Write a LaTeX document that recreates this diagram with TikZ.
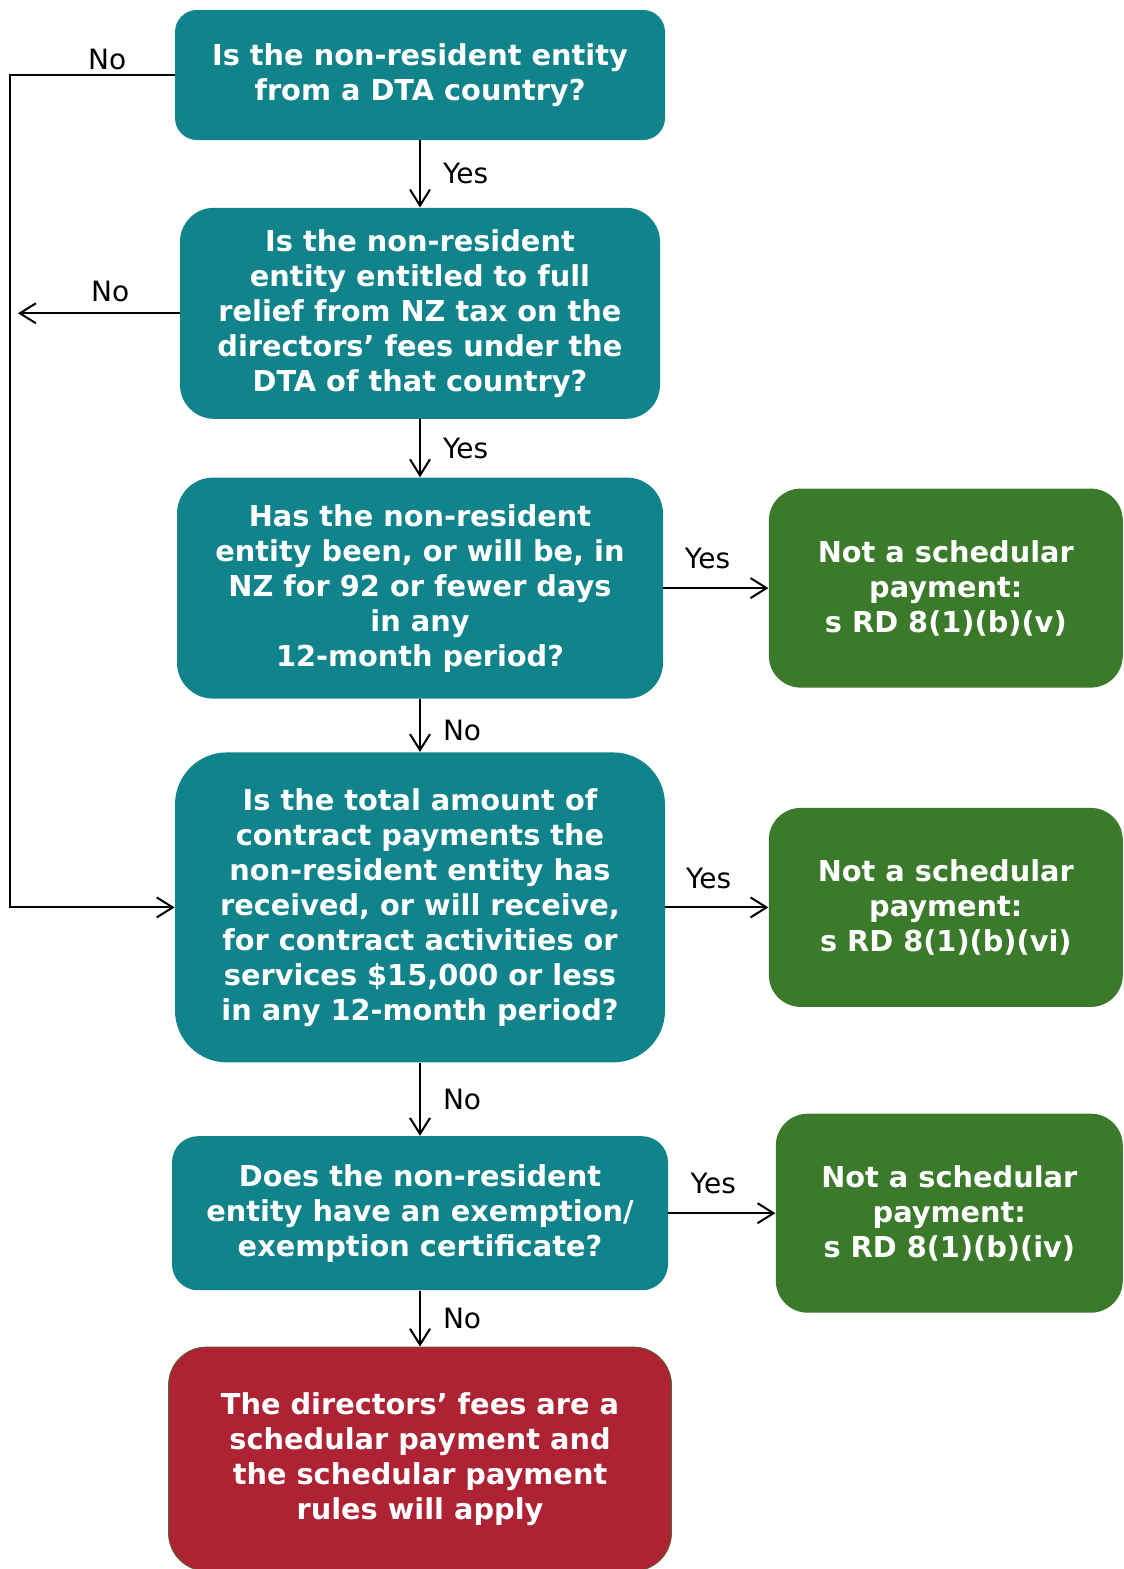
\documentclass[tikz,border=0pt]{standalone}
\usepackage{fontspec}
\setmainfont{DejaVu Sans}
\usetikzlibrary{arrows.meta, positioning}
\definecolor{qteal}{RGB}{16,131,139}
\definecolor{okgreen}{RGB}{58,122,42}
\definecolor{badred}{RGB}{173,35,52}
\tikzset{
  question/.style={
    rectangle, fill=qteal,
    text=white, align=center, inner sep=0pt,
    font=\bfseries\fontsize{14.4}{17.5}\selectfont,
  },
  exempt/.style={
    rectangle, fill=okgreen,
    minimum width=177pt, minimum height=99.5pt, rounded corners=16pt,
    text=white, align=center, inner sep=0pt,
    font=\bfseries\fontsize{14.4}{17.5}\selectfont,
  },
  schedular/.style={
    rectangle, fill=badred, draw=okgreen!80!badred, line width=0.4pt,
    text=white, align=center, inner sep=0pt,
    font=\bfseries\fontsize{14.4}{17.5}\selectfont,
  },
  answer/.style={font=\fontsize{14}{16}\selectfont, inner sep=2pt},
  arrow/.style={-{Straight Barb[length=8pt, width=10pt]}, line width=1pt},
}

\begin{document}
\begin{tikzpicture}
  \useasboundingbox (0,0) rectangle (562pt,-784.5pt);
  \node[question, minimum width=245pt, minimum height=65pt, rounded corners=11pt] (dta) at (210pt,-37.5pt)
    {Is the non-resident entity\\from a DTA country?};
  \node[question, minimum width=240pt, minimum height=105.5pt, rounded corners=17pt, below=33.5pt of dta] (relief)
    {Is the non-resident\\entity entitled to full\\relief from NZ tax on the\\directors’ fees under the\\DTA of that country?};
  \node[question, minimum width=243pt, minimum height=110.5pt, rounded corners=18pt, below=29pt of relief] (days)
    {Has the non-resident\\entity been, or will be, in\\NZ for 92 or fewer days\\in any\\12-month period?};
  \node[question, minimum width=245pt, minimum height=155pt, rounded corners=26pt, below=26.5pt of days] (amount)
    {Is the total amount of\\contract payments the\\non-resident entity has\\received, or will receive,\\for contract activities or\\services \$15,000 or less\\in any 12-month period?};
  \node[question, minimum width=248pt, minimum height=77pt, rounded corners=13pt, below=36.5pt of amount] (cert)
    {Does the non-resident\\entity have an exemption/\\exemption certificate?};
  \node[schedular, minimum width=251.5pt, minimum height=112pt, rounded corners=19pt, below=28pt of cert] (applies)
    {The directors’ fees are a\\schedular payment and\\the schedular payment\\rules will apply};

  \node[exempt, right=52.5pt of days] (exv) {Not a schedular\\payment:\\s RD 8(1)(b)(v)};
  \node[exempt, right=51.5pt of amount] (exvi) {Not a schedular\\payment:\\s RD 8(1)(b)(vi)};
  \node[exempt, minimum width=173.5pt, right=53.5pt of cert] (exiv) {Not a schedular\\payment:\\s RD 8(1)(b)(iv)};

  \coordinate (loop) at (5pt,0);
  \coordinate (noend) at (9pt,0);

  \draw[arrow] (dta) -- node[answer, right=9pt] {Yes} (relief);
  \draw[arrow] (relief) -- node[answer, right=9pt] {Yes} (days);
  \draw[arrow] (days) -- node[answer, right=9pt, pos=0.6] {No} (amount);
  \draw[arrow] (amount) -- node[answer, right=9pt] {No} (cert);
  \draw[arrow] (cert) -- node[answer, right=9pt] {No} (applies);
  \draw[arrow] (days) -- node[answer, above=7pt, pos=0.42] {Yes} (exv);
  \draw[arrow] (amount) -- node[answer, above=7pt, pos=0.42] {Yes} (exvi);
  \draw[arrow] (cert) -- node[answer, above=7pt, pos=0.42] {Yes} (exiv);
  \draw[arrow] (dta.west) -- node[answer, above, pos=0.41] {No} (dta.west -| loop) |- (amount.west);
  \draw[arrow] (relief.west) -- node[answer, above=3pt, pos=0.43] {No} (relief.west -| noend);
\end{tikzpicture}
\end{document}
